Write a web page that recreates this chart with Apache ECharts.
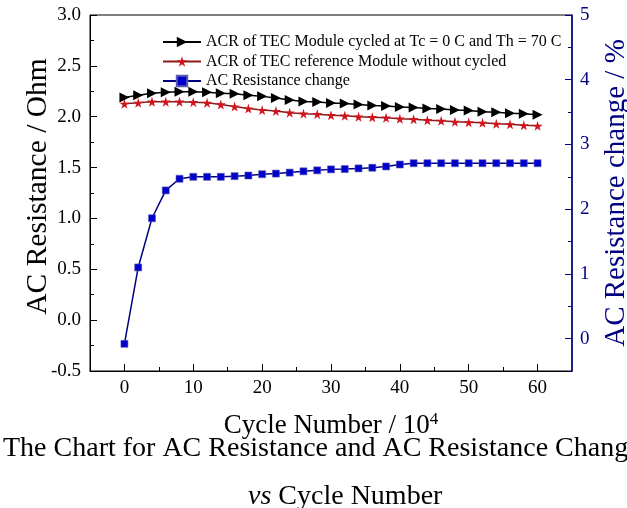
<!DOCTYPE html>
<html>
<head>
<meta charset="utf-8">
<script src="https://cdn.jsdelivr.net/npm/echarts@6/dist/echarts.min.js"></script>
<style>
html,body{margin:0;padding:0;background:#fff;}
#chart{width:627px;height:508px;}
</style>
</head>
<body>
<div id="chart"></div>
<script>
// ---- data ----
var cycles = [0,2,4,6,8,10,12,14,16,18,20,22,24,26,28,30,32,34,36,38,40,42,44,46,48,50,52,54,56,58,60];
var acrCycled = [2.19,2.21,2.23,2.24,2.245,2.245,2.24,2.23,2.225,2.21,2.20,2.185,2.165,2.15,2.145,2.135,2.13,2.12,2.11,2.105,2.095,2.09,2.08,2.075,2.065,2.06,2.05,2.045,2.035,2.03,2.02];
var acrReference = [2.127,2.137,2.147,2.147,2.147,2.143,2.137,2.12,2.10,2.08,2.065,2.055,2.04,2.03,2.025,2.015,2.01,2.0,1.995,1.99,1.98,1.975,1.965,1.96,1.95,1.945,1.94,1.93,1.925,1.915,1.91];
var changePct = [-0.08,1.10,1.86,2.29,2.47,2.50,2.50,2.50,2.51,2.52,2.54,2.55,2.565,2.585,2.60,2.615,2.62,2.63,2.64,2.66,2.69,2.71,2.71,2.71,2.71,2.71,2.71,2.71,2.71,2.71,2.71];

var seriesNames = ['ACR of TEC Module cycled at Tc = 0 C and Th = 70 C','ACR of TEC reference Module without cycled','AC Resistance change'];
var xMajorTicks = [0,10,20,30,40,50,60];
var xMinorTicks = [5,15,25,35,45,55];
var rightMajorTicks = [0,1,2,3,4,5];
var rightMinorTicks = [-0.5,0.5,1.5,2.5,3.5,4.5];

function pairs(xs, ys){ return xs.map(function(x,i){ return [x, ys[i]]; }); }

var FONT = 'Liberation Serif';
var NAVY = '#000080';
var chart = echarts.init(document.getElementById('chart'), null, {renderer:'canvas'});

var option = {
  animation: false,
  backgroundColor: '#ffffff',
  textStyle: {fontFamily: FONT},
  title: [
    {text: 'The Chart for AC Resistance and AC Resistance Change', left: 3, top: 435, padding: 0,
     textStyle: {fontFamily: FONT, fontSize: 28, fontWeight: 'normal', color: '#000'}},
    {text: '{i|vs} Cycle Number', left: 248, top: 483, padding: 0,
     textStyle: {fontFamily: FONT, fontSize: 28, fontWeight: 'normal', color: '#000',
       rich: {i: {fontFamily: FONT, fontSize: 28, fontStyle: 'italic', color: '#000'}}}}
  ],
  grid: {left: 90, right: 55, top: 15, bottom: 137, show: true, borderColor: '#000', borderWidth: 1,
         containLabel: false, outerBoundsMode: 'none'},
  legend: {
    orient: 'vertical', left: 157, top: 29, itemWidth: 38, itemHeight: 13, itemGap: 3.5,
    textStyle: {fontFamily: FONT, fontSize: 16, color: '#000'},
    data: seriesNames
  },
  xAxis: [
    {type: 'value', min: -5, max: 65, position: 'bottom',
     name: '{n|Cycle Number / 10}{s|4}', nameLocation: 'middle', nameGap: 40, nameMoveOverlap: false,
     nameTextStyle: {fontFamily: FONT, fontSize: 27, color: '#000',
       rich: {n: {fontFamily: FONT, fontSize: 27, color: '#000'},
              s: {fontFamily: FONT, fontSize: 17, color: '#000', verticalAlign: 'top', padding: [0,0,12,0]}}},
     axisLine: {onZero: false, lineStyle: {color: '#000', width: 1}},
     axisTick: {inside: true, length: 7, customValues: xMajorTicks, lineStyle: {color: '#000'}},
     axisLabel: {customValues: xMajorTicks, fontFamily: FONT, fontSize: 19, color: '#000', margin: 8},
     splitLine: {show: false}},
    {type: 'value', min: -5, max: 65, position: 'bottom', offset: 0,
     axisLine: {show: false, onZero: false},
     axisTick: {inside: true, length: 4, customValues: xMinorTicks, lineStyle: {color: '#000'}},
     axisLabel: {show: false}, splitLine: {show: false}}
  ],
  yAxis: [
    {type: 'value', min: -0.5, max: 3.0, interval: 0.5, position: 'left',
     name: 'AC Resistance / Ohm', nameLocation: 'middle', nameRotate: 90, nameGap: 37, nameMoveOverlap: false,
     nameTextStyle: {fontFamily: FONT, fontSize: 29.5, color: '#000', padding: [0,0,0,13]},
     axisLine: {show: true, onZero: false, lineStyle: {color: '#000', width: 1}},
     axisTick: {inside: true, length: 7, lineStyle: {color: '#000'}},
     minorTick: {show: true, splitNumber: 2, length: 4, lineStyle: {color: '#000'}},
     axisLabel: {fontFamily: FONT, fontSize: 19, color: '#000', margin: 9,
       formatter: function(v){ return v.toFixed(1); }},
     splitLine: {show: false}},
    {type: 'value', min: -0.5, max: 5, position: 'right',
     name: 'AC Resistance change / %', nameLocation: 'middle', nameRotate: 90, nameGap: 30, nameMoveOverlap: false,
     nameTextStyle: {fontFamily: FONT, fontSize: 29, color: NAVY},
     axisLine: {show: true, onZero: false, lineStyle: {color: NAVY, width: 1.5}},
     axisTick: {inside: true, length: 7, customValues: rightMajorTicks, lineStyle: {color: NAVY}},
     axisLabel: {customValues: rightMajorTicks, fontFamily: FONT, fontSize: 19, color: NAVY, margin: 8},
     splitLine: {show: false}},
    {type: 'value', min: -0.5, max: 5, position: 'right', offset: 0,
     axisLine: {show: false, onZero: false},
     axisTick: {inside: true, length: 4, customValues: rightMinorTicks, lineStyle: {color: NAVY}},
     axisLabel: {show: false}, splitLine: {show: false}}
  ],
  series: [
    {name: seriesNames[0], type: 'line', xAxisIndex: 0, yAxisIndex: 0, data: pairs(cycles, acrCycled),
     symbol: 'path://M0,0 L10,5 L0,10 Z', symbolSize: [10, 10], showAllSymbol: true,
     lineStyle: {color: '#000', width: 1.5}, itemStyle: {color: '#000'}, z: 3},
    {name: seriesNames[1], type: 'line', xAxisIndex: 0, yAxisIndex: 0, data: pairs(cycles, acrReference),
     symbol: 'path://M50,0 L61,35 L98,35 L68,57 L79,91 L50,70 L21,91 L32,57 L2,35 L39,35 Z', symbolSize: [10, 10], showAllSymbol: true,
     lineStyle: {color: '#8b1a1a', width: 1.5}, itemStyle: {color: '#d0141e'}, z: 2},
    {name: seriesNames[2], type: 'line', xAxisIndex: 0, yAxisIndex: 1, data: pairs(cycles, changePct),
     symbol: 'rect', symbolSize: 7, showAllSymbol: true,
     lineStyle: {color: NAVY, width: 1.5}, itemStyle: {color: '#0000cc', borderColor: '#5a5ab0', borderWidth: 0.6}, z: 2}
  ]
};
chart.setOption(option);
</script>
</body>
</html>
